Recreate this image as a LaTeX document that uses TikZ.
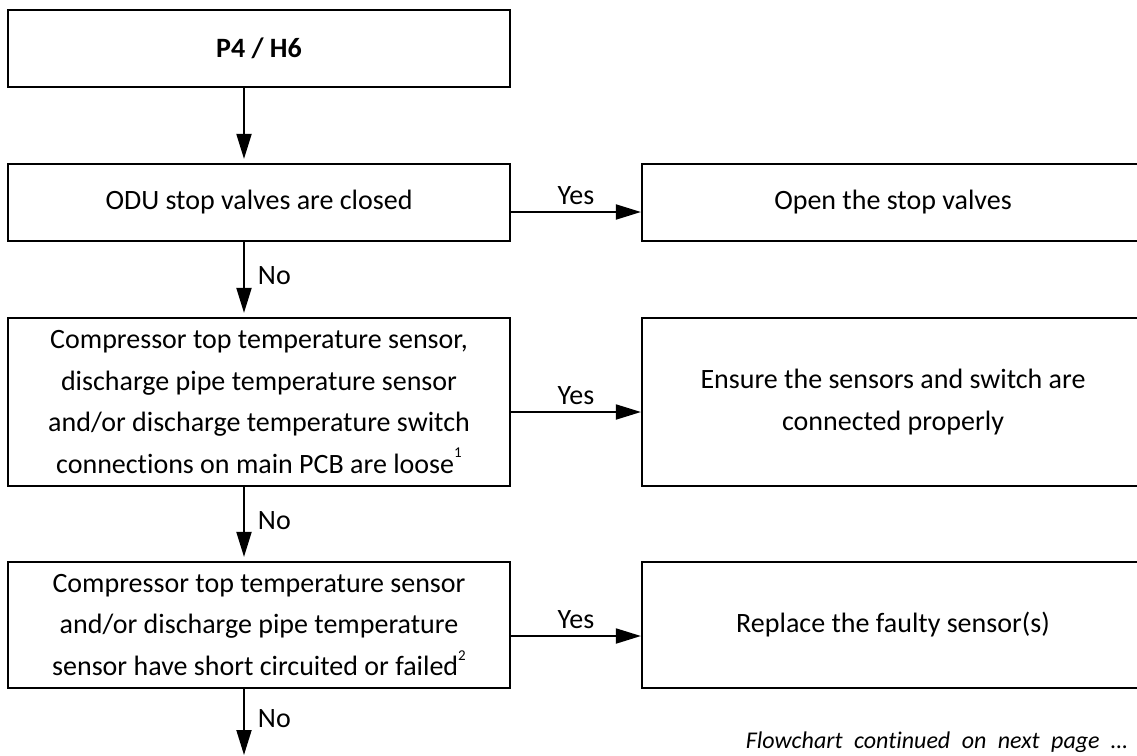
\documentclass[tikz,border=0pt]{standalone}
\usepackage{fontspec}
\setmainfont[Ligatures=CommonOff]{Carlito}
\usetikzlibrary{arrows.meta,calc}
\newcommand{\supnum}[1]{\raisebox{0.55em}{\fontsize{15}{15}\selectfont #1}}
\begin{document}
\begin{tikzpicture}[x=1pt,y=-1pt,
  box/.style={draw,line width=2.2pt,minimum width=502pt,inner sep=0pt,align=center,
    font=\fontsize{28}{41.5}\selectfont},
  arr/.style={line width=1.9pt,-{Triangle[length=25pt,width=15pt]}},
  lbl/.style={font=\fontsize{28}{30}\selectfont,inner sep=0pt}]
\useasboundingbox (0,0) rectangle (1137,755);
\node[box,minimum height=77pt] (b1) at (259,48.5) {\bfseries P4 / H6};
\node[box,minimum height=77pt] (b2) at (259,202.5) {ODU stop valves are closed};
\node[box,minimum height=168pt] (b3) at (259,402) {Compressor top temperature sensor,\\discharge pipe temperature sensor\\and/or discharge temperature switch\\connections on main PCB are loose\supnum{1}};
\node[box,minimum height=126pt] (b4) at (259,625) {Compressor top temperature sensor\\and/or discharge pipe temperature\\sensor have short circuited or failed\supnum{2}};
\node[box,minimum height=77pt] (r1) at (893,202.5) {Open the stop valves};
\node[box,minimum height=168pt] (r2) at (893,402) {Ensure the sensors and switch are\\connected properly};
\node[box,minimum height=126pt] (r3) at (893,625) {Replace the faulty sensor(s)};
\coordinate (ax) at (244,0);
\coordinate (end) at (244,755);
\draw[arr,shorten >=4pt] (b1.south -| ax) -- (b2.north -| ax);
\draw[arr,shorten >=4pt] (b2.south -| ax) -- (b3.north -| ax) node[lbl,pos=0.45,anchor=west,xshift=13pt] {No};
\draw[arr,shorten >=4pt] (b3.south -| ax) -- (b4.north -| ax) node[lbl,pos=0.45,anchor=west,xshift=13pt] {No};
\draw[arr] (b4.south -| ax) -- (end) node[lbl,pos=0.45,anchor=west,xshift=13pt] {No};
\draw[arr] (b2.east |- 0,212) -- (r1.west |- 0,212) node[lbl,midway,above=6pt] {Yes};
\draw[arr] (b3.east |- 0,412) -- (r2.west |- 0,412) node[lbl,midway,above=6pt] {Yes};
\draw[arr] (b4.east |- 0,636) -- (r3.west |- 0,636) node[lbl,midway,above=6pt] {Yes};
\node[lbl,anchor=east,font=\fontsize{24}{28}\selectfont\itshape] (cont) at (1128,742)
  {\makebox[382pt]{Flowchart\hfill continued\hfill on\hfill next\hfill page\hfill …}};
\end{tikzpicture}
\end{document}
